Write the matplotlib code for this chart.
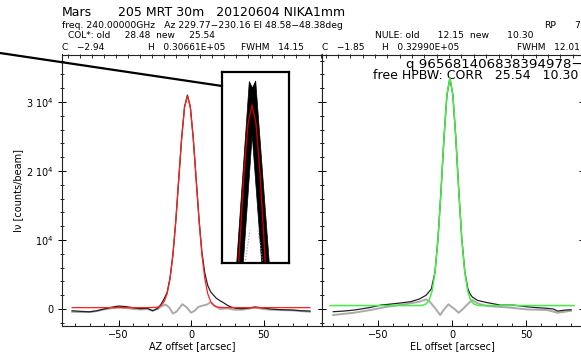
import numpy as np
import matplotlib
matplotlib.use("Agg")
import matplotlib.pyplot as plt
from matplotlib.lines import Line2D
from matplotlib.ticker import MultipleLocator

# ---------------- data ----------------
# AZ scan: Gaussian fit (red)
az_fit_x = [-82, -30, -24.5, -22.5, -20.5, -18.5, -16.5, -14.5, -12.5, -10.5, -8.5, -6.5,
            -4.5, -2.5, -0.5, 1.5, 3.5, 5.5, 7.5, 9.5, 11.5, 13.5, 15.5, 17.5, 19.5, 25, 82]
az_fit_y = [200, 200, 240, 320, 550, 1090, 2230, 4370, 7870, 12830, 18810, 24760,
            29200, 30860, 29200, 24760, 18810, 12830, 7870, 4370, 2230, 1090, 550, 320, 240, 200, 200]

# AZ scan: measured (black)
az_dat_x = [-82, -75, -70, -65, -60, -55, -50, -45, -40, -35, -30, -26.5, -23, -20.5, -18.5,
            -16.5, -14.5, -12.5, -10.5, -8.5, -6.5, -4.5, -2.5, -0.5, 1.5, 3.5, 5.5, 7.5, 9.5,
            11.5, 13.5, 15.5, 17.5, 20, 22.5, 25, 27.5, 31, 35, 40, 44, 48, 55, 62, 70, 76, 82]
az_dat_y = [-250, -350, -400, -250, 0, 250, 430, 350, 190, 50, 100, -250, 100, 750, 1500,
            2400, 4500, 7900, 12800, 18800, 24700, 29300, 31000, 29300, 24800, 18900, 13000, 8200, 5200,
            3400, 2500, 2000, 1550, 1200, 900, 550, 300, 100, 50, 150, 300, 200, 0, -100, -150, -250, -300]

# AZ scan: residual (grey)
az_res_x = [-82, -75, -70, -65, -60, -55, -50, -45, -40, -35, -30, -26.5, -23, -20.5, -17.5,
            -15, -12.5, -10, -6, -3, 0, 2.5, 5, 8, 11, 13.5, 16, 20, 25, 30, 35, 40, 44, 50,
            55, 62, 70, 76, 82]
az_res_y = [-400, -450, -450, -300, -50, 100, 250, 150, 0, -50, 0, -250, 0, 400, 650,
            200, -650, -370, 700, 250, -530, -250, 300, 500, 650, 1000, 500, 0, 100, -100, -100, 50, 200, 0,
            -100, -150, -200, -300, -400]

# EL scan: Gaussian fit (green)
el_fit_x = [-82, -21.5, -19.5, -17.5, -15.5, -13.5, -11.5, -9.5, -7.5, -5.5, -3.5, -1.5,
            0.5, 2.5, 4.5, 6.5, 8.5, 10.5, 12.5, 14.5, 16.5, 18.5, 82]
el_fit_y = [500, 500, 565, 740, 1260, 2570, 5320, 10130, 17010, 24750, 31050, 33490,
            31050, 24750, 17010, 10130, 5320, 2570, 1260, 740, 565, 500, 500]

# EL scan: measured (black)
el_dat_x = [-80, -73, -66, -60, -55, -48, -42, -35, -28, -22, -17.5, -14, -11.5, -9.5, -7.5,
            -5.5, -3.5, -1.5, 0.5, 2.5, 4.5, 6.5, 8.5, 10.5, 12, 13.6, 17, 20, 23.5, 28, 32.5,
            37, 41.5, 46, 50.5, 57, 64, 68, 71, 76, 80]
el_dat_y = [-390, -300, -150, 50, 230, 570, 700, 870, 1060, 1450, 2000, 2900, 5400, 10200, 17000,
            24700, 31000, 33450, 31000, 24700, 17000, 10200, 5500, 3000, 2200, 1740, 1260, 1100, 930, 750, 560,
            560, 560, 450, 320, 200, 100, 0, -300, -150, -100]

# EL scan: residual (grey)
el_res_x = [-80, -66, -55, -43.5, -32, -22, -17.5, -15, -11.4, -8, -5.8, -2.5, 1, 4.4, 7.7,
            11, 13.6, 17, 23.5, 37, 50.5, 64, 71, 80]
el_res_y = [-870, -540, -150, 340, 680, 1060, 1400, 1060, 100, -870, -150, 680, 100, -540, 100,
            820, 1300, 820, 430, 240, -60, -150, -540, -250]

# Inset: zoom on the AZ peak (band of raw samples + faint points)
ins_band_x = [-10.15, -3.85, -2.25, -0.65, 6.15, 2.35, -2.4, -6.85]
ins_band_y = [16800, 32950, 32380, 33000, 16800, 16800, 28190, 16800]
ins_dots_lx = [-6.0, -3.5]
ins_dots_rx = [0.5, 3.0]
ins_dots_y = [16800, 19700]

ytick_vals = [0, 10000, 20000, 30000]
ytick_labels = ["0", "10$^4$", "2 10$^4$", "3 10$^4$"]
xtick_vals = [-50, 0, 50]

# ---------------- figure ----------------
W, H = 581, 354
fig = plt.figure(figsize=(W / 100, H / 100), dpi=100)
fig.patch.set_facecolor("white")

def px_axes(x0, y0, x1, y1):
    return fig.add_axes([x0 / W, 1 - y1 / H, (x1 - x0) / W, (y1 - y0) / H])

def T(x, y, s, size, ha="left"):
    fig.text(x / W, 1 - y / H, s, fontsize=size, ha=ha, va="center", color="black")

YLIM = (-2460, 36880)
GREY = "#aaaaaa"

axL = px_axes(62, 54.5, 322, 326)
axR = px_axes(322, 54.5, 583, 326)

for ax in (axL, axR):
    for sp in ax.spines.values():
        sp.set_linewidth(0.8)
        sp.set_color("#222222")
    ax.set_ylim(*YLIM)
    ax.set_xticks(xtick_vals)
    ax.xaxis.set_minor_locator(MultipleLocator(10))
    ax.yaxis.set_minor_locator(MultipleLocator(2000))
    ax.tick_params(which="major", direction="inout", length=6, width=0.7,
                   top=False, right=True, labelsize=7, pad=3)
    ax.tick_params(which="minor", direction="inout", length=3, width=0.6,
                   top=False, right=True)
    ax.tick_params(axis="x", which="major", direction="in", length=4)
    ax.tick_params(axis="x", which="minor", direction="in", length=2)
    sec = ax.secondary_xaxis("top")
    sec.set_xticks(np.arange(-85, 90, 8.3))
    sec.tick_params(direction="in", length=3, width=0.6, labeltop=False)
    sec.spines["top"].set_visible(False)

axL.set_xlim(-89, 90.3)
axR.set_xlim(-87.5, 88)

axL.set_yticks(ytick_vals)
axL.set_yticklabels(ytick_labels)
axR.set_yticks(ytick_vals)
axR.tick_params(labelleft=False)

axL.set_xlabel("AZ offset [arcsec]", fontsize=7, labelpad=1)
axR.set_xlabel("EL offset [arcsec]", fontsize=7, labelpad=1)
axL.set_ylabel("Iν [counts/beam]", fontsize=7, labelpad=2)

# left panel curves
axL.plot(az_res_x, az_res_y, color=GREY, lw=1.4, zorder=2)
axL.plot(az_dat_x, az_dat_y, color="#222222", lw=0.9, zorder=3)
axL.plot(az_fit_x, az_fit_y, color="#ff2020", lw=0.9, zorder=4)

# right panel curves
axR.plot(el_res_x, el_res_y, color=GREY, lw=1.4, zorder=2)
axR.plot(el_dat_x, el_dat_y, color="#222222", lw=0.9, zorder=3)
axR.plot(el_fit_x, el_fit_y, color="#44ee44", lw=1.1, zorder=4)

axR.text(0.998, 0.965, "q 965681406838394978\u2212", transform=axR.transAxes,
         fontsize=9.6, ha="right", va="center")
axR.text(0.982, 0.922, "free HPBW: CORR   25.54   10.30", transform=axR.transAxes,
         fontsize=9, ha="right", va="center")

# inset
axI = px_axes(222, 72, 289, 263)
axI.set_xlim(-17.5, 16)
axI.set_ylim(16800, 33800)
axI.set_xticks([])
axI.set_yticks([])
for sp in axI.spines.values():
    sp.set_linewidth(1.6)
    sp.set_color("black")
axI.plot(ins_dots_lx, ins_dots_y, color="#999999", lw=0.8, ls=":")
axI.plot(ins_dots_rx, ins_dots_y[::-1], color="#999999", lw=0.8, ls=":")
axI.fill(ins_band_x, ins_band_y, color="black", lw=0.5)
axI.plot(az_fit_x, az_fit_y, color="#cc0000", lw=1.0)

# connecting line
fig.add_artist(Line2D([0, 222 / W], [1 - 53 / H, 1 - 86 / H],
                      transform=fig.transFigure, color="black", lw=1.6))

# header text
T(62, 13, "Mars", 9)
T(118, 13, "205 MRT 30m   20120604 NIKA1mm", 9)
T(62, 25, "freq. 240.00000GHz   Az 229.77\u2212230.16 El 48.58\u221248.38deg", 6.7)
T(544, 25, "RP", 6.7)
T(574, 25, "7", 6.7)
T(68, 36, "COL*: old     28.48  new     25.54", 6.5)
T(375, 36, "NULE: old      12.15  new      10.30", 6.7)
T(62, 47, "C   \u22122.94", 6.5)
T(148, 47, "H   0.30661E+05", 6.5)
T(241, 47, "FWHM   14.15", 6.5)
T(322, 47, "C   \u22121.85", 6.5)
T(382, 47, "H   0.32990E+05", 6.5)
T(517, 47, "FWHM   12.01", 6.5)

fig.savefig("out.png", dpi=100, facecolor="white")
